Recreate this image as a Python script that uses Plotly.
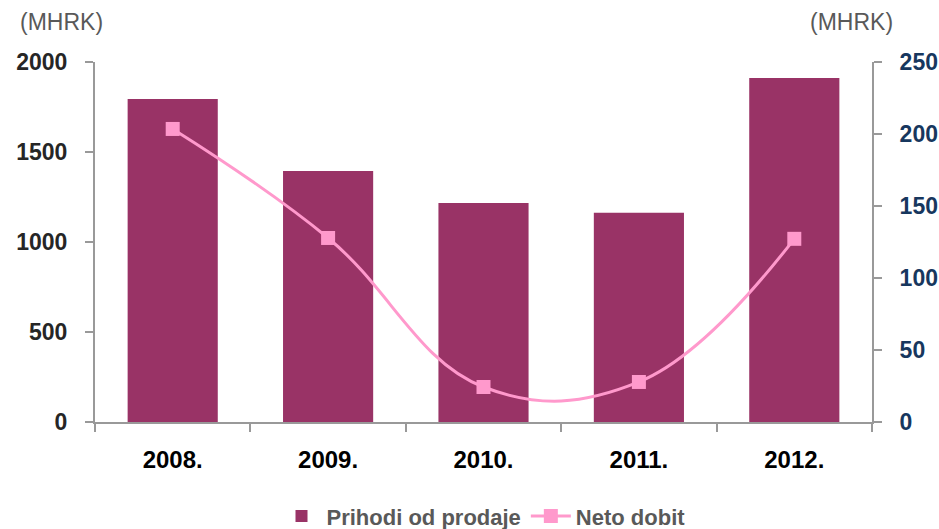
import plotly.graph_objects as go

years = ["2008.", "2009.", "2010.", "2011.", "2012."]
prihodi = [1795, 1395, 1217, 1162, 1911]
neto = [203.5, 127.8, 24.3, 27.8, 127.2]

FONT = "Liberation Sans, Arial, sans-serif"

fig = go.Figure()
fig.add_trace(go.Bar(
    x=years, y=prihodi, name="Prihodi od prodaje",
    marker=dict(color="#993366", line=dict(width=0)),
    yaxis="y",
))
fig.add_trace(go.Scatter(
    x=years, y=neto, name="Neto dobit", mode="lines+markers",
    line=dict(color="#FF99CC", width=3, shape="spline", smoothing=1.15),
    marker=dict(symbol="square", size=14, color="#FF99CC"),
    yaxis="y2",
))

fig.update_layout(
    width=939, height=529,
    margin=dict(l=95, r=67, t=62, b=107, autoexpand=False),
    paper_bgcolor="white", plot_bgcolor="white",
    font=dict(family=FONT),
    bargap=0.42,
    showlegend=True,
    legend=dict(orientation="h", x=0.5, xanchor="center", y=-0.262, yanchor="middle",
                font=dict(size=22, color="#595959", family=FONT, weight="bold"),
                itemwidth=40, tracegroupgap=0),
    xaxis=dict(
        showline=True, linecolor="#999999", linewidth=2,
        ticks="outside", tickson="boundaries", ticklen=8, tickcolor="#999999", tickwidth=2,
        tickfont=dict(size=24, color="#000000", family=FONT, weight="bold"),
        showgrid=False, zeroline=False, ticklabelstandoff=15,
    ),
    yaxis=dict(
        range=[0, 2000], tickvals=[0, 500, 1000, 1500, 2000],
        showline=True, linecolor="#999999", linewidth=2,
        ticks="outside", ticklen=8, tickcolor="#999999", tickwidth=2,
        tickfont=dict(size=23, color="#262626", family=FONT, weight="bold"),
        showgrid=False, zeroline=False, ticklabelstandoff=13,
    ),
    yaxis2=dict(
        range=[0, 250], tickvals=[0, 50, 100, 150, 200, 250],
        overlaying="y", side="right",
        showline=True, linecolor="#999999", linewidth=2,
        ticks="outside", ticklen=8, tickcolor="#999999", tickwidth=2,
        tickfont=dict(size=23, color="#17375E", family=FONT, weight="bold"),
        showgrid=False, zeroline=False, ticklabelstandoff=13,
    ),
    annotations=[
        dict(text="(MHRK)", xref="paper", yref="paper", x=-0.099, y=1.111,
             xanchor="left", yanchor="middle", showarrow=False,
             font=dict(size=23, color="#595959", family=FONT)),
        dict(text="(MHRK)", xref="paper", yref="paper", x=1.0296, y=1.111,
             xanchor="right", yanchor="middle", showarrow=False,
             font=dict(size=23, color="#595959", family=FONT)),
    ],
)

fig.write_html(
    "out.html",
    config={"displayModeBar": False},
    post_script="document.body.style.margin='0';document.body.style.overflow='hidden';",
)
